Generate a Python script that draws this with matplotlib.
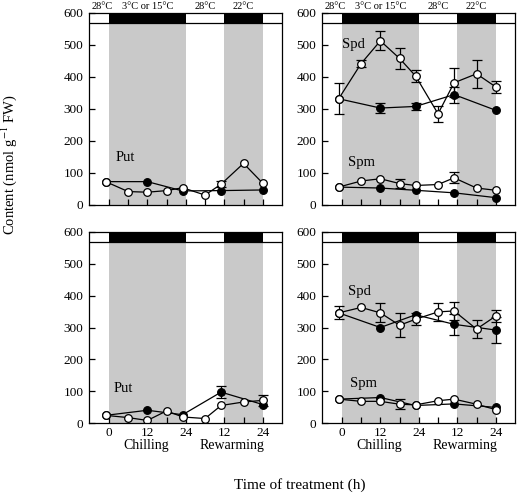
import matplotlib
matplotlib.use('Agg')
import matplotlib.pyplot as plt
from matplotlib.patches import Rectangle
import numpy as np

plt.rcParams['font.family'] = ['Liberation Serif', 'DejaVu Serif']
plt.rcParams['mathtext.fontset'] = 'stix'

# ---- data ----
hours_open = [-1, 6, 12, 18, 23, 30, 35, 42, 48]
hours_filled = [-1, 12, 23, 35, 48]

# top-left: Put
tl_put_open = [73, 42, 40, 45, 54, 31, 65, 130, 68]
tl_put_open_err = [0, 0, 0, 0, 0, 0, 10, 0, 0]
tl_put_filled = [73, 73, 44, 45, 47]
tl_put_filled_err = [0, 0, 0, 0, 0]

# top-right: Spd, Spm
tr_spd_open = [332, 442, 513, 458, 403, 285, 382, 410, 369]
tr_spd_open_err = [48, 10, 30, 33, 18, 25, 45, 43, 20]
tr_spd_filled = [332, 303, 308, 345, 296]
tr_spd_filled_err = [0, 15, 12, 25, 0]
tr_spm_open = [56, 75, 82, 67, 61, 64, 85, 53, 46]
tr_spm_open_err = [0, 0, 0, 15, 0, 0, 17, 0, 0]
tr_spm_filled = [56, 53, 46, 38, 23]
tr_spm_filled_err = [0, 0, 0, 0, 0]

# bottom-left: Put
bl_put_open = [24, 17, 8, 38, 19, 14, 55, 66, 71]
bl_put_open_err = [0, 0, 0, 0, 0, 0, 0, 0, 18]
bl_put_filled = [24, 40, 26, 97, 58]
bl_put_filled_err = [0, 0, 0, 18, 0]

# bottom-right: Spd, Spm
br_spd_open = [346, 363, 346, 307, 326, 349, 352, 295, 336]
br_spd_open_err = [20, 0, 30, 38, 18, 28, 28, 28, 18]
br_spd_filled = [346, 300, 340, 310, 292]
br_spd_filled_err = [0, 0, 0, 33, 42]
br_spm_open = [75, 68, 68, 59, 57, 70, 75, 59, 42]
br_spm_open_err = [0, 0, 0, 15, 0, 0, 0, 0, 0]
br_spm_filled = [75, 80, 55, 60, 49]
br_spm_filled_err = [0, 0, 0, 0, 0]

temp_labels = ['28\u00b0C', '3\u00b0C or 15\u00b0C', '28\u00b0C', '22\u00b0C']
temp_label_x = [-2, 12, 30, 42]
xtick_pos = [0, 12, 24, 36, 48]
xtick_labels = ['0', '12', '24', '12', '24']
phase_labels = ['Chilling', 'Rewarming']
phase_x = [11.5, 38.5]

# ---- layout ----
W, H = 518, 501
fig = plt.figure(figsize=(W / 100, H / 100), dpi=100)

def ax_at(left, top, right, bottom):
    return fig.add_axes([left / W, 1 - bottom / H, (right - left) / W, (bottom - top) / H])

XL = (-6.2, 54.0)
BAR = 568
GRAY = '#c9c9c9'

def setup(ax, bottom_row, top_row):
    ax.set_xlim(*XL)
    ax.set_ylim(0, 600)
    ax.axvspan(0, 24, ymin=0, ymax=BAR / 600, color=GRAY, lw=0, zorder=0)
    ax.axvspan(36, 48, ymin=0, ymax=BAR / 600, color=GRAY, lw=0, zorder=0)
    segs = [(XL[0], 0, 'white'), (0, 24, 'black'), (24, 36, 'white'), (36, 48, 'black'), (48, XL[1], 'white')]
    for a, b, c in segs:
        ax.add_patch(Rectangle((a, BAR), b - a, 600 - BAR, facecolor=c, edgecolor='none', zorder=1))
    ax.axhline(BAR, color='black', lw=0.9, zorder=2)
    for s in ax.spines.values():
        s.set_linewidth(0.9)
        s.set_zorder(5)
    ax.set_yticks(range(0, 601, 100))
    ax.set_xticks(range(0, 49, 6))
    ax.tick_params(direction='in', length=4, width=0.9, labelsize=9.5, pad=4)
    ax.tick_params(axis='x', length=4)
    if bottom_row:
        ax.set_xticks(xtick_pos, minor=False)
        ax.set_xticks([6, 18, 30, 42], minor=True)
        ax.set_xticklabels(xtick_labels)
        ax.tick_params(axis='x', which='minor', direction='in', length=4, width=0.9)
        ax.tick_params(axis='x', pad=3)
        for lab, xx in zip(phase_labels, phase_x):
            ax.annotate(lab, xy=(xx, 0), xycoords=('data', 'axes fraction'),
                        xytext=(0, -16), textcoords='offset points',
                        ha='center', va='center', fontsize=10)
    else:
        ax.set_xticklabels([])
    if top_row:
        for lab, xx in zip(temp_labels, temp_label_x):
            ax.annotate(lab, xy=(xx, 1), xycoords=('data', 'axes fraction'),
                        xytext=(0, 1.5), textcoords='offset points',
                        ha='center', va='bottom', fontsize=7.5)

def series(ax, yo, yo_err, yf, yf_err):
    kw = dict(color='black', lw=0.9, ms=5.5, mew=0.9)
    ax.plot(hours_filled, yf, marker='o', mfc='black', mec='black', zorder=3, **kw)
    ax.plot(hours_open, yo, marker='o', mfc='white', mec='black', zorder=4, **kw)
    xo = [x for x, e in zip(hours_open, yo_err) if e > 0]
    vo = [v for v, e in zip(yo, yo_err) if e > 0]
    eo = [e for e in yo_err if e > 0]
    if eo:
        ax.errorbar(xo, vo, yerr=eo, fmt='none', ecolor='black', elinewidth=0.9, capsize=3.5, capthick=0.9, zorder=2.5)
    xf = [x for x, e in zip(hours_filled, yf_err) if e > 0]
    vf = [v for v, e in zip(yf, yf_err) if e > 0]
    ef = [e for e in yf_err if e > 0]
    if ef:
        ax.errorbar(xf, vf, yerr=ef, fmt='none', ecolor='black', elinewidth=0.9, capsize=3.5, capthick=0.9, zorder=2.5)

ax_tl = ax_at(89, 13, 282, 205)
ax_tr = ax_at(322, 13, 515, 205)
ax_bl = ax_at(89, 232, 282, 423)
ax_br = ax_at(322, 232, 515, 423)

setup(ax_tl, False, True)
setup(ax_tr, False, True)
setup(ax_bl, True, False)
setup(ax_br, True, False)

series(ax_tl, tl_put_open, tl_put_open_err, tl_put_filled, tl_put_filled_err)
series(ax_tr, tr_spd_open, tr_spd_open_err, tr_spd_filled, tr_spd_filled_err)
series(ax_tr, tr_spm_open, tr_spm_open_err, tr_spm_filled, tr_spm_filled_err)
series(ax_bl, bl_put_open, bl_put_open_err, bl_put_filled, bl_put_filled_err)
series(ax_br, br_spd_open, br_spd_open_err, br_spd_filled, br_spd_filled_err)
series(ax_br, br_spm_open, br_spm_open_err, br_spm_filled, br_spm_filled_err)

lab_kw = dict(fontsize=10.5, ha='center', va='center', zorder=6)
ax_tl.text(5, 148, 'Put', **lab_kw)
ax_tr.text(3.6, 500, 'Spd', **lab_kw)
ax_tr.text(6.2, 134, 'Spm', **lab_kw)
ax_bl.text(4.5, 107, 'Put', **lab_kw)
ax_br.text(5.5, 413, 'Spd', **lab_kw)
ax_br.text(6.9, 125, 'Spm', **lab_kw)

fig.text(9 / W, 1 - 165 / H, 'Content (nmol g$^{-1}$ FW)', rotation=90,
         ha='center', va='center', fontsize=10.5)
fig.text(300 / W, 1 - 485 / H, 'Time of treatment (h)', ha='center', va='center', fontsize=11)

fig.savefig('out.png', dpi=100)
